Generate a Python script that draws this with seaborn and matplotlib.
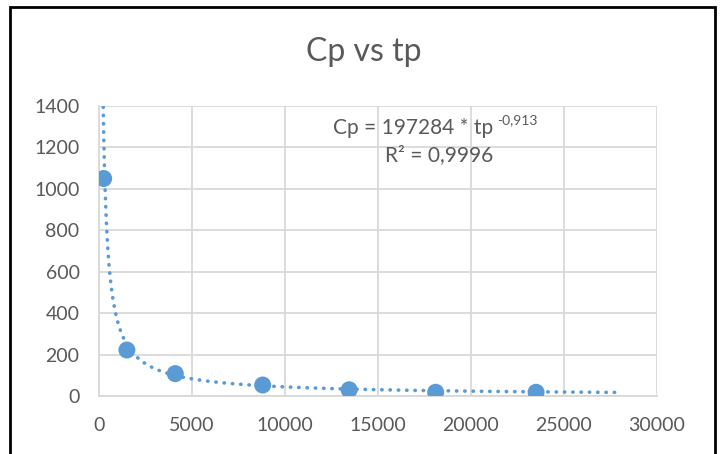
import numpy as np
import pandas as pd
import matplotlib
matplotlib.use("Agg")
import matplotlib.pyplot as plt
import seaborn as sns
from matplotlib.patches import Rectangle

# 数据点
tp = [250, 1500, 4100, 8800, 13450, 18100, 23500]
cp = [1050, 222, 108, 53, 30, 18, 18]

# 幂函数趋势线系数 (图中显示)
coef_a = 197284
coef_b = -0.913
trend_start = 150
trend_end = 27850

blue = "#5B9BD5"
grey_text = "#595959"
grid_col = "#D9D9D9"

sns.set_theme(style="white")
plt.rcParams["font.family"] = ["Lato", "DejaVu Sans"]

df = pd.DataFrame({"tp": tp, "Cp": cp})
tx = np.linspace(trend_start, trend_end, 2000)
trend = pd.DataFrame({"tp": tx, "Cp": coef_a * tx ** coef_b})

W, H = 724, 454
fig = plt.figure(figsize=(7.24, 4.54), dpi=100)
ax = fig.add_axes([99 / W, 1 - 396 / H, 558 / W, 290 / H])

sns.lineplot(data=trend, x="tp", y="Cp", ax=ax, color=blue, linewidth=2.6,
             linestyle=(0, (0.1, 2.2)), zorder=2)
ax.lines[-1].set_dash_capstyle("round")
sns.scatterplot(data=df, x="tp", y="Cp", ax=ax, color=blue, s=150,
                edgecolor="none", zorder=3)

ax.set_xlim(0, 30000)
ax.set_ylim(0, 1400)
ax.set_xticks(range(0, 30001, 5000))
ax.set_yticks(range(0, 1401, 200))
ax.grid(True, color=grid_col, linewidth=1.3)
ax.set_axisbelow(True)
for s in ["top", "right"]:
    ax.spines[s].set_visible(False)
for s in ["left", "bottom"]:
    ax.spines[s].set_color(grid_col)
    ax.spines[s].set_linewidth(1.3)
ax.tick_params(axis="both", colors=grey_text, labelsize=14, length=0)
ax.tick_params(axis="y", pad=14)
ax.tick_params(axis="x", pad=15)
ax.set_xlabel("")
ax.set_ylabel("")


def px(x, y):
    return x / W, 1 - y / H


fig.text(*px(364, 52), "Cp vs tp", ha="center", va="center",
         fontsize=23, color=grey_text)

# 趋势线公式
eq = fig.text(*px(333, 128), "Cp = 197284 * tp", ha="left", va="center",
              fontsize=15, color=grey_text)
fig.canvas.draw()
bb = eq.get_window_extent()
fig.text(bb.x1 / W + 4 / W, px(0, 120)[1], "-0,913", ha="left", va="center",
         fontsize=10, color=grey_text)
fig.text(*px(385, 155), "R² = 0,9996", ha="left", va="center",
         fontsize=15, color=grey_text)

fig.patches.append(Rectangle((10 / W, -0.05), 705 / W, 1 - 7.5 / H + 0.05,
                             transform=fig.transFigure, fill=False,
                             edgecolor="black", linewidth=2, zorder=0))

fig.savefig("out.png", dpi=100)
